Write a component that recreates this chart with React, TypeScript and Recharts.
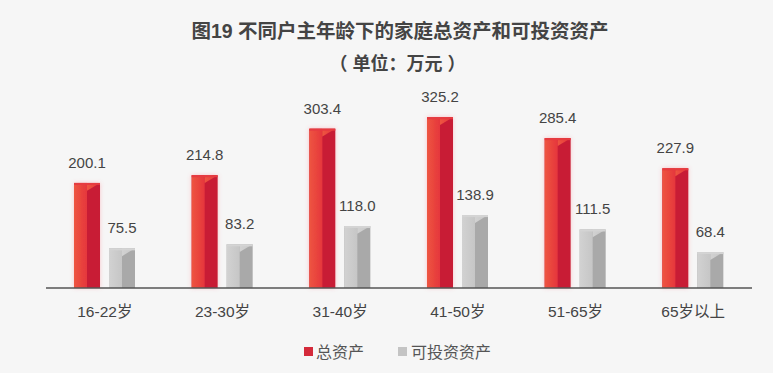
import { BarChart, Bar, XAxis, YAxis, LabelList } from "recharts"

const categories = ["16-22岁", "23-30岁", "31-40岁", "41-50岁", "51-65岁", "65岁以上"]
const totalAssets = [200.1, 214.8, 303.4, 325.2, 285.4, 227.9]
const investableAssets = [75.5, 83.2, 118.0, 138.9, 111.5, 68.4]

const data = categories.map((name, i) => ({
  name,
  total: totalAssets[i],
  investable: investableAssets[i],
}))

const FONT = '"Liberation Sans", Arial, "Noto Sans CJK SC", sans-serif'

function makeBar3D(left: string, right: string, cap: string, glow?: string) {
  return (props: any) => {
    const { x, y, width, height } = props
    if (!height || height <= 0) return null
    const mid = x + width * 0.5
    return (
      <g filter={glow}>
        <rect x={x} y={y} width={width} height={height} fill={right} />
        <rect x={x} y={y} width={mid - x} height={height} fill={left} />
        <polygon points={`${mid},${y} ${x + width},${y} ${mid},${y + width * 0.3}`} fill={left} />
        <rect x={x} y={y} width={width} height={2} fill={cap} />
      </g>
    )
  }
}

const RedBar = makeBar3D("url(#redLeft)", "#c81e36", "#e63a40", "url(#redGlow)")
const GrayBar = makeBar3D("url(#grayLeft)", "#a9a9a9", "#d4d4d4")

export default function App() {
  return (
    <div
      style={{
        position: "fixed",
        left: 0,
        top: 0,
        width: 773,
        height: 373,
        background: "#f6f6f6",
        fontFamily: FONT,
        overflow: "hidden",
      }}
    >
      <svg width={0} height={0} style={{ position: "absolute" }}>
        <defs>
          <linearGradient id="redLeft" x1="0" y1="0" x2="1" y2="0">
            <stop offset="0%" stopColor="#ee5540" />
            <stop offset="100%" stopColor="#e5363c" />
          </linearGradient>
          <linearGradient id="grayLeft" x1="0" y1="0" x2="1" y2="0">
            <stop offset="0%" stopColor="#d2d2d2" />
            <stop offset="100%" stopColor="#c6c6c6" />
          </linearGradient>
          <filter id="redGlow" x="-30%" y="-10%" width="160%" height="120%">
            <feDropShadow dx="0" dy="0" stdDeviation="2" floodColor="#ff6070" floodOpacity="0.35" />
          </filter>
        </defs>
      </svg>

      <div
        style={{
          position: "absolute",
          top: 15,
          left: 0,
          width: 800,
          textAlign: "center",
          fontSize: 19.5,
          fontWeight: 700,
          color: "#444",
        }}
      >
        图19 不同户主年龄下的家庭总资产和可投资资产
      </div>
      <div
        style={{
          position: "absolute",
          top: 49,
          left: 0,
          width: 795,
          textAlign: "center",
          fontSize: 18,
          fontWeight: 700,
          color: "#444",
        }}
      >
        （ 单位：万元 ）
      </div>

      <BarChart
        width={773}
        height={373}
        data={data}
        margin={{ top: 78, right: 21, left: 46, bottom: 55 }}
        barSize={26}
        barGap={9}
      >
        <YAxis hide domain={[0, 400]} />
        <XAxis
          dataKey="name"
          axisLine={{ stroke: "#555", strokeWidth: 1.5 }}
          tickLine={false}
          tickMargin={12}
          tick={{ fill: "#444", fontSize: 15.5, fontFamily: FONT }}
        />
        <Bar dataKey="total" isAnimationActive={false} shape={RedBar}>
          <LabelList dataKey="total" position="top" offset={15} fill="#444" fontSize={15} fontFamily={FONT} formatter={(v: any) => Number(v).toFixed(1)} />
        </Bar>
        <Bar dataKey="investable" isAnimationActive={false} shape={GrayBar}>
          <LabelList dataKey="investable" position="top" offset={15} fill="#444" fontSize={15} fontFamily={FONT} formatter={(v: any) => Number(v).toFixed(1)} />
        </Bar>
      </BarChart>

      <div
        style={{
          position: "absolute",
          top: 339,
          left: 304,
          display: "flex",
          alignItems: "center",
          fontSize: 16,
          color: "#555",
          whiteSpace: "nowrap",
        }}
      >
        <span style={{ width: 9, height: 9, background: "#d42a3a", marginRight: 3, display: "inline-block" }} />
        <span>总资产</span>
        <span style={{ width: 9, height: 9, background: "#c4c4c4", marginLeft: 34, marginRight: 4, display: "inline-block" }} />
        <span>可投资资产</span>
      </div>
    </div>
  )
}
